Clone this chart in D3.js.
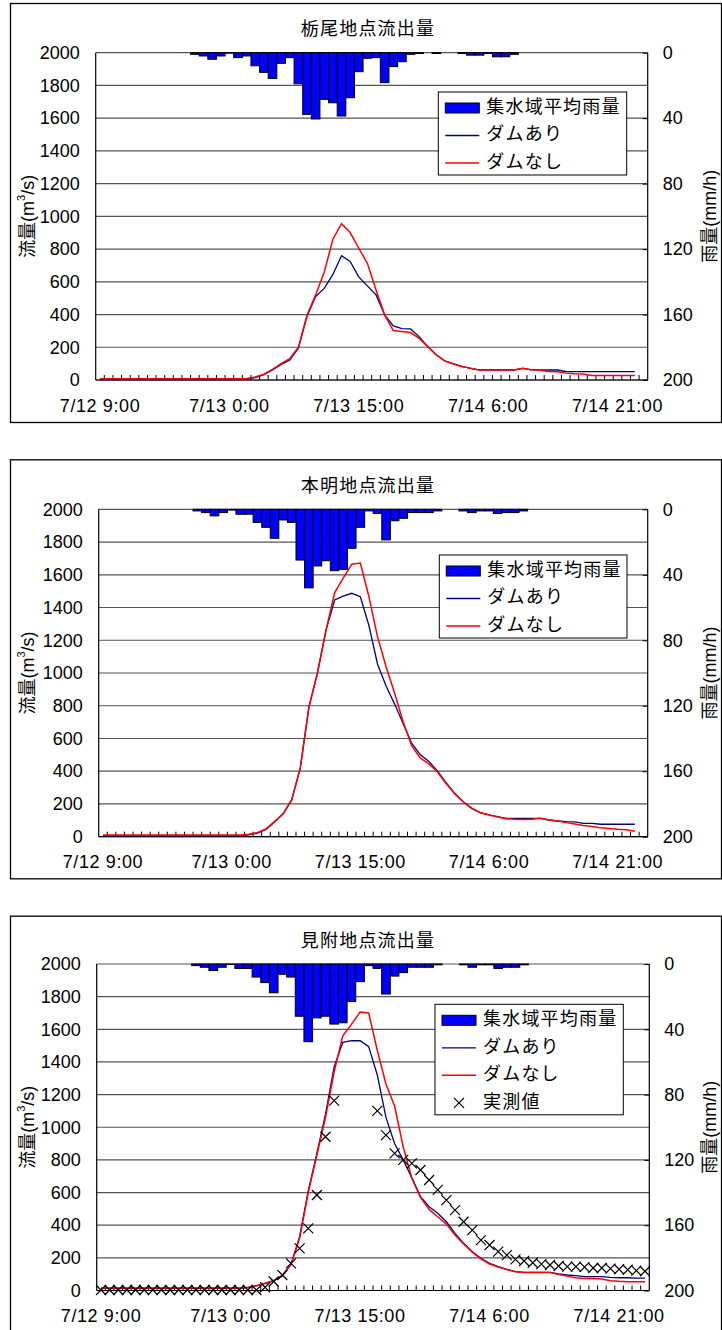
<!DOCTYPE html>
<html><head><meta charset="utf-8">
<script src="https://cdn.jsdelivr.net/npm/d3@7"></script>
<style>
body{margin:0;background:#fff}
svg text{font-family:"Liberation Sans", Arial, "Noto Sans CJK JP", sans-serif; font-size:18px; fill:#000}
</style></head><body>
<svg id="c" width="722" height="1330"></svg>
<script>
// ---------- data ----------
const categories = d3.range(64); // hourly, 7/12 9:00 ... 7/15 0:00
const tickIndex = [0, 15, 30, 45, 60];
const tickLabels = ["7/12 9:00", "7/13 0:00", "7/13 15:00", "7/14 6:00", "7/14 21:00"];
const flowTicks = [0, 200, 400, 600, 800, 1000, 1200, 1400, 1600, 1800, 2000];
const rainTicks = [0, 40, 80, 120, 160, 200];
const titles = ["栃尾地点流出量", "本明地点流出量", "見附地点流出量"];
const legendNames = ["集水域平均雨量", "ダムあり", "ダムなし", "実測値"];

// 栃尾
const rain1 = [0,0,0,0,0,0,0,0,0,0,0, 1,2,4,2,0.3,3,2,8,12,15.7,6.5,3,19,37.7,40.5,28.5,30.6,38.7,27.5,11.6,3.4,3,18.3,8.5,5.5,1,0.5,0,0.5,0,0,0.5,1.5,1.5,0.5,2.5,2.5,1, 0,0,0,0,0,0,0,0,0,0,0,0,0,0,0];
const withDam1 = [2,2,2,2,2,2,2,2,2,2,2,2,2,2,2,2,2, 5,15,32,62,95,122,194,390,510,560,645,760,724,630,575,520,398,330,314,312,265,204,153,116,98,82,71,61,61,61,61,61,71,62,61,61,61,52,51,51,51,51,51,51,51,51];
const noDam1   = [7,7,7,7,7,7,7,7,7,7,7,7,7,7,7,7,7, 9,18,35,65,100,130,200,395,520,660,860,955,901,805,713,550,398,302,296,290,255,204,153,116,98,82,71,61,61,61,61,61,71,62,60,52,50,42,38,37,27,27,27,27,27,27];

// 本明
const rain2 = [0,0,0,0,0,0,0,0,0,0,0, 1,2,4,2,0.5,3,3,8,11,17.7,6.5,8,31,48,34.6,31.4,37.5,36.7,23.8,11,1,2.5,18.7,7,5.5,2,2,2,1,0,0,1,2,1,1,2.5,2,2,1, 0,0,0,0,0,0,0,0,0,0,0,0,0,0];
const withDam2 = [5,5,5,5,5,5,5,5,5,5,5,5,5,5,5,5,5, 12,22,45,90,140,225,420,790,1000,1262,1446,1470,1487,1466,1290,1055,920,810,690,570,500,460,400,330,265,214,173,147,133,122,112,112,112,112,112,102,96,92,90,82,82,76,76,76,76,76];
const noDam2   = [10,10,10,10,10,10,10,10,10,10,10,10,10,10,10,10,10, 15,25,48,92,140,225,420,790,1000,1262,1490,1580,1665,1672,1466,1222,1038,876,700,555,480,445,395,325,262,212,172,146,132,121,110,106,105,106,112,102,96,86,78,68,62,55,50,45,42,33];

// 見附
const rain3 = [0,0,0,0,0,0,0,0,0,0,0, 1,2,4,2,0.3,2.7,2.7,8,11.4,17.6,6.3,8,32,47.6,33,32,36.8,36,23,10.8,1,2.7,18.4,7.4,5.3,2,2,2,0.5,0,0,0.5,2,0.5,0.5,2.7,2,2,0.5, 0,0,0,0,0,0,0,0,0,0,0,0,0,0];
const withDam3 = [13,13,13,13,13,13,13,13,13,13,13,13,13,13,13,13,13, 18,28,42,60,89,160,330,610,840,1080,1370,1520,1530,1530,1494,1320,1060,900,800,690,575,513,473,421,350,289,238,197,166,146,130,115,111,111,111,111,101,95,91,85,85,85,80,78,78,76,76];
const noDam3   = [16,16,16,16,16,16,16,16,16,16,16,16,16,16,16,16,16, 20,30,45,62,92,160,320,600,830,1060,1340,1560,1630,1705,1700,1470,1265,1130,880,687,570,497,452,407,340,285,235,193,162,143,128,115,111,111,111,111,98,88,78,74,74,70,60,56,54,54,54];
const observed3 = [3,3,3,3,3,3,3,3,3,3,3,3,3,3,3,3,3,3,3, 20,55,95,166,258,381,585,942,1163,null,null,null,null,1100,952,840,800,779,738,677,616,554,492,421,370,309,279,238,217,191,181,170,162,156,150,146,146,143,138,138,134,130,127,122,118];

// ---------- layout ----------
const charts = [
  {title: titles[0], rain: rain1, a: withDam1, b: noDam1, obs: null,
   box: [10, 3, 721, 422], plot: [95.7, 52.7, 647.7, 380], legend: [438.3, 92, 626.7]},
  {title: titles[1], rain: rain2, a: withDam2, b: noDam2, obs: null,
   box: [10, 459.3, 721, 878.3], plot: [98.7, 509.3, 647.7, 836.7], legend: [439.3, 555, 627]},
  {title: titles[2], rain: rain3, a: withDam3, b: noDam3, obs: observed3,
   box: [10, 915.7, 721, 1334], plot: [96.7, 964, 649.3, 1290.5], legend: [435, 1004.3, 623.3]}
];

const svg = d3.select("#c");
const numFont = "Liberation Sans, Arial, sans-serif";

charts.forEach(c => {
  const [l, t, r, b] = c.plot;
  const g = svg.append("g");
  g.append("rect").attr("x", c.box[0] + 0.5).attr("y", c.box[1] + 0.5)
    .attr("width", c.box[2] - c.box[0]).attr("height", c.box[3] - c.box[1])
    .attr("fill", "none").attr("stroke", "#000").attr("stroke-width", 1.3);

  const x = d3.scaleBand().domain(categories).range([l, r]).padding(0);
  const cx = i => x(i) + x.bandwidth() / 2;
  const yL = d3.scaleLinear().domain([0, 2000]).range([b, t]);
  const yR = d3.scaleLinear().domain([0, 200]).range([t, b]);

  g.append("text").attr("x", 368).attr("y", c.plot[1] - 22).attr("text-anchor", "middle")
    .attr("dominant-baseline", "middle").style("font-size", "18px").style("letter-spacing", "1.2px")
    .text(c.title);

  g.append("g").selectAll("line").data(flowTicks).join("line")
    .attr("x1", l).attr("x2", r).attr("y1", d => yL(d)).attr("y2", d => yL(d))
    .attr("stroke", "#555").attr("stroke-width", 1.2);

  g.append("g").selectAll("rect").data(c.rain.map((v, i) => ({v, i})).filter(d => d.v > 0)).join("rect")
    .attr("x", d => x(d.i)).attr("y", yR(0)).attr("width", x.bandwidth())
    .attr("height", d => yR(d.v) - yR(0))
    .attr("fill", "#0000ff").attr("stroke", "#000").attr("stroke-width", 1);

  g.append("line").attr("x1", l).attr("x2", l).attr("y1", t).attr("y2", b).attr("stroke", "#000").attr("stroke-width", 1.2);
  g.append("line").attr("x1", r).attr("x2", r).attr("y1", t).attr("y2", b).attr("stroke", "#000").attr("stroke-width", 1.2);
  g.append("line").attr("x1", l).attr("x2", r).attr("y1", b).attr("y2", b).attr("stroke", "#000").attr("stroke-width", 1.2);

  g.append("g").selectAll("line").data(categories.slice(1)).join("line")
    .attr("x1", d => x(d)).attr("x2", d => x(d)).attr("y1", b).attr("y2", b - 5)
    .attr("stroke", "#000").attr("stroke-width", 1);

  const axL = g.append("g").attr("transform", `translate(${l},0)`)
    .call(d3.axisLeft(yL).tickValues(flowTicks).tickFormat(d3.format("d")).tickSize(0).tickPadding(16));
  axL.select(".domain").remove();
  axL.selectAll("text").style("font-size", "18px").style("font-family", numFont);

  const axR = g.append("g").attr("transform", `translate(${r},0)`)
    .call(d3.axisRight(yR).tickValues(rainTicks).tickFormat(d3.format("d")).tickSize(-5).tickPadding(15));
  axR.select(".domain").remove();
  axR.selectAll("line").attr("stroke", "#000");
  axR.selectAll("text").style("font-size", "18px").style("font-family", numFont);

  const axB = g.append("g").attr("transform", `translate(0,${b})`)
    .call(d3.axisBottom(x).tickValues(tickIndex).tickSize(0).tickPadding(19)
      .tickFormat(d => tickLabels[tickIndex.indexOf(d)]));
  axB.select(".domain").remove();
  axB.selectAll("text").style("font-size", "18px").style("font-family", numFont)
    .style("letter-spacing", "0.6px");

  const my = (t + b) / 2;
  const lt = g.append("text").attr("transform", `translate(29,${my}) rotate(-90)`)
    .attr("text-anchor", "middle").attr("dominant-baseline", "middle").style("font-size", "18px");
  lt.append("tspan").text("流量(m");
  lt.append("tspan").text("3").style("font-size", "11px").attr("dy", -7);
  lt.append("tspan").text("/s)").attr("dy", 7);

  g.append("text").attr("transform", `translate(711,${my}) rotate(-90)`)
    .attr("text-anchor", "middle").attr("dominant-baseline", "middle").style("font-size", "18px")
    .text("雨量(mm/h)");

  const line = d3.line().defined(d => d != null).x((d, i) => cx(i)).y(d => yL(d));
  g.append("path").datum(c.a).attr("d", line).attr("fill", "none").attr("stroke", "#000080").attr("stroke-width", 1.3);
  g.append("path").datum(c.b).attr("d", line).attr("fill", "none").attr("stroke", "#ff0000").attr("stroke-width", 1.5);

  const xMark = (gg, px, py) => {
    gg.append("path").attr("d", `M${px-5},${py-5}L${px+5},${py+5}M${px-5},${py+5}L${px+5},${py-5}`)
      .attr("stroke", "#000").attr("stroke-width", 1.2).attr("fill", "none");
  };
  if (c.obs) {
    const mg = g.append("g");
    c.obs.forEach((v, i) => { if (v != null) xMark(mg, cx(i), yL(v)); });
  }

  const [lx, ly, lr] = c.legend;
  const rows = c.obs ? 4 : 3;
  const rowH = 27.5;
  const lh = 16 + (rows - 1) * rowH + 12;
  const lg = g.append("g");
  lg.append("rect").attr("x", lx).attr("y", ly).attr("width", lr - lx).attr("height", lh)
    .attr("fill", "#fff").attr("stroke", "#000").attr("stroke-width", 1);
  const sx = lx + 7, sw = 34, tx = lx + 48;
  for (let k = 0; k < rows; k++) {
    const yy = ly + 16 + k * rowH;
    if (k === 0) {
      lg.append("rect").attr("x", sx).attr("y", yy - 5).attr("width", sw).attr("height", 10)
        .attr("fill", "#0000ff").attr("stroke", "#000").attr("stroke-width", 1);
    } else if (k === 1) {
      lg.append("line").attr("x1", sx).attr("x2", sx + sw).attr("y1", yy).attr("y2", yy).attr("stroke", "#000080").attr("stroke-width", 1.3);
    } else if (k === 2) {
      lg.append("line").attr("x1", sx).attr("x2", sx + sw).attr("y1", yy).attr("y2", yy).attr("stroke", "#ff0000").attr("stroke-width", 1.5);
    } else {
      xMark(lg, sx + sw / 2, yy);
    }
    lg.append("text").attr("x", tx).attr("y", yy).attr("dominant-baseline", "middle")
      .style("font-size", "18px").style("letter-spacing", "1.2px").text(legendNames[k]);
  }
});
</script>
</body></html>
